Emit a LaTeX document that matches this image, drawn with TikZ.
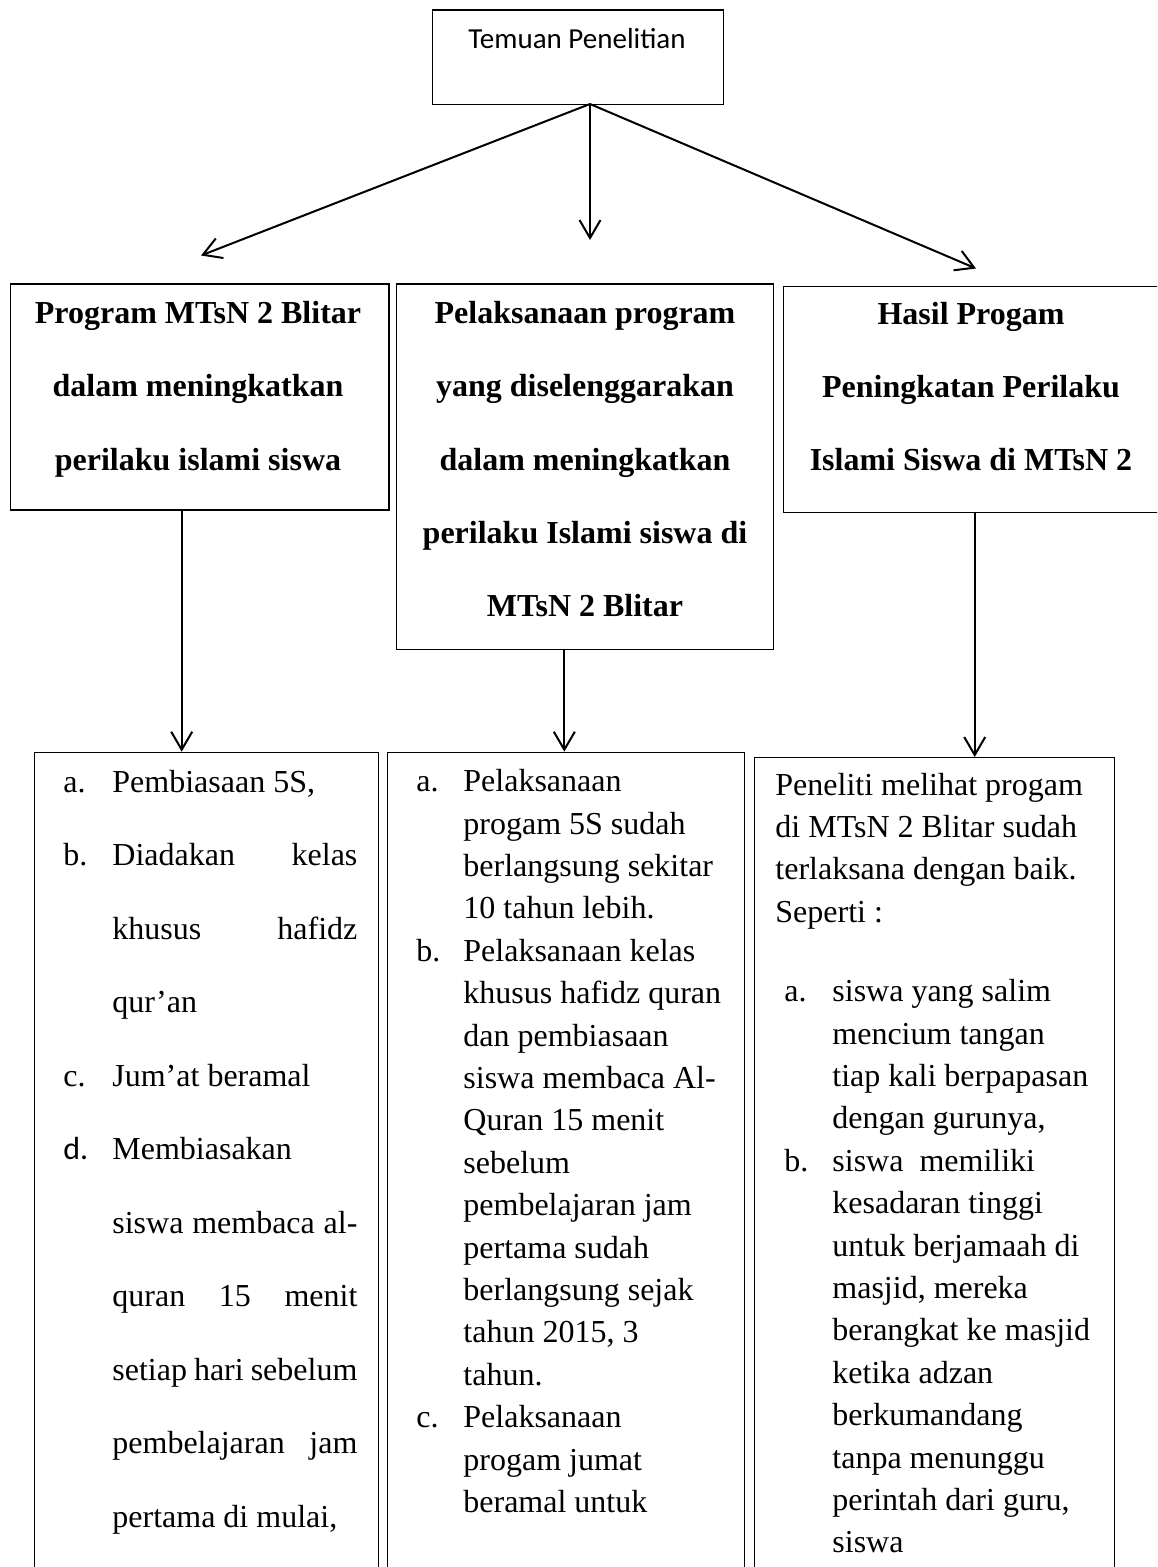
\documentclass[tikz,border=0pt]{standalone}
\usepackage{fontspec}
\setmainfont{Liberation Serif}
\newfontfamily\califont{Carlito}
\usetikzlibrary{arrows.meta}
\newcommand\jusline[1]{\hbox to 122.5pt{#1}}
\begin{document}
\begin{tikzpicture}[x=0.5pt,y=-0.5pt,
  boxst/.style={draw,line width=0.7pt,inner sep=0,anchor=north west},
  arr/.style={line width=1pt,-{Straight Barb[length=9pt,width=10.5pt,line width=1pt]}},
  txt/.style={anchor=base west,inner sep=0,font=\fontsize{16}{19}\selectfont},
  hd/.style={anchor=base,inner sep=0,font=\bfseries\fontsize{16}{19}\selectfont}]
\useasboundingbox (0,0) rectangle (1157,1567);
\clip (0,0) rectangle (1157,1567);
% top box
\node[boxst,minimum width=145.5pt,minimum height=47.35pt] (top) at (431.7,9.3) {};
\node[anchor=base,inner sep=0,font=\califont\fontsize{14.5}{17}\selectfont] (toptxt) at (577,48.3) {Temuan Penelitian};
% heading boxes
\node[boxst,minimum width=189.15pt,minimum height=113pt] (lh) at (10,283.3) {};
\node[boxst,minimum width=188.5pt,minimum height=182.85pt] (mh) at (396,283.3) {};
\node[boxst,minimum width=188.65pt,minimum height=113pt] (rh) at (782.7,285.7) {};
% bottom boxes (open at the bottom of the page)
\node[boxst,minimum width=172pt,minimum height=430pt] (lb) at (34,751.7) {};
\node[boxst,minimum width=178.65pt,minimum height=430pt] (mb) at (386.7,751.7) {};
\node[boxst,minimum width=180pt,minimum height=430pt] (rb) at (754,757) {};
% arrow ends
\coordinate (apex) at (590,104);
\coordinate (tipL) at (201,255.5);
\coordinate (tipM) at (590,240);
\coordinate (tipR) at (976,268.5);
\draw[arr] (apex) -- (tipL);
\draw[arr] (apex) -- (tipM);
\draw[arr] (apex) -- (tipR);
\draw[arr] (lh.south -| 181.7,0) -- (lb.north -| 181.7,0);
\draw[arr] (mh.south -| 564.3,0) -- (mb.north -| 564.3,0);
\draw[arr] (rh.south -| 974.7,0) -- (rb.north -| 974.7,0);
% heading texts
\node[hd] (lh1) at (198,323.3) {Program MTsN 2 Blitar};
\node[hd] (lh2) at (198,396.7) {dalam meningkatkan};
\node[hd] (lh3) at (198,470) {perilaku islami siswa};
\node[hd] (mh1) at (585,323.3) {Pelaksanaan program};
\node[hd] (mh2) at (585,396.7) {yang diselenggarakan};
\node[hd] (mh3) at (585,470) {dalam meningkatkan};
\node[hd] (mh4) at (585,543.3) {perilaku Islami siswa di};
\node[hd] (mh5) at (585,616.7) {MTsN 2 Blitar};
\node[hd] (rh1) at (971,325) {Hasil Progam};
\node[hd] (rh2) at (971,397.5) {Peningkatan Perilaku};
\node[hd] (rh3) at (971,470.5) {Islami Siswa di MTsN 2};
% left bottom box text
\node[txt] (la) at (63,792) {a.};
\node[txt] (l0) at (112,792) {Pembiasaan 5S,};
\node[txt] (lbl) at (63,865.5) {b.};
\node[txt] (l1) at (112,865.5) {\jusline{Diadakan\hfill kelas}};
\node[txt] (l2) at (112,939) {\jusline{khusus\hfill hafidz}};
\node[txt] (l3) at (112,1012.5) {qur’an};
\node[txt] (lc) at (63,1086) {c.};
\node[txt] (l4) at (112,1086) {Jum’at beramal};
\node[txt] (ld) at (63,1159.5) {\califont d.};
\node[txt] (l5) at (112,1159.5) {Membiasakan};
\node[txt] (l6) at (112,1233) {\jusline{siswa membaca al-}};
\node[txt] (l7) at (112,1306.5) {\jusline{quran\hfill 15\hfill menit}};
\node[txt] (l8) at (112,1380) {\jusline{setiap hari sebelum}};
\node[txt] (l9) at (112,1453.5) {\jusline{pembelajaran\hfill jam}};
\node[txt] (l10) at (112,1527) {pertama di mulai,};
% middle bottom box text
\node[txt] (ma) at (416,791.7) {a.};
\node[txt] (m0) at (463,791.7) {Pelaksanaan};
\node[txt] (m1) at (463,834.1) {progam 5S sudah};
\node[txt] (m2) at (463,876.5) {berlangsung sekitar};
\node[txt] (m3) at (463,918.9) {10 tahun lebih.};
\node[txt] (mbl) at (416,961.3) {b.};
\node[txt] (m4) at (463,961.3) {Pelaksanaan kelas};
\node[txt] (m5) at (463,1003.7) {khusus hafidz quran};
\node[txt] (m6) at (463,1046.1) {dan pembiasaan};
\node[txt] (m7) at (463,1088.5) {siswa membaca Al-};
\node[txt] (m8) at (463,1130.9) {Quran 15 menit};
\node[txt] (m9) at (463,1173.3) {sebelum};
\node[txt] (m10) at (463,1215.7) {pembelajaran jam};
\node[txt] (m11) at (463,1258.1) {pertama sudah};
\node[txt] (m12) at (463,1300.5) {berlangsung sejak};
\node[txt] (m13) at (463,1342.9) {tahun 2015, 3};
\node[txt] (m14) at (463,1385.3) {tahun.};
\node[txt] (mc) at (416,1427.7) {c.};
\node[txt] (m15) at (463,1427.7) {Pelaksanaan};
\node[txt] (m16) at (463,1470.1) {progam jumat};
\node[txt] (m17) at (463,1512.5) {beramal untuk};
% right bottom box text
\node[txt] (r0) at (775,795) {Peneliti melihat progam};
\node[txt] (r1) at (775,837.4) {di MTsN 2 Blitar sudah};
\node[txt] (r2) at (775,879.8) {terlaksana dengan baik.};
\node[txt] (r3) at (775,922.2) {Seperti :};
\node[txt] (ra) at (784,1001.7) {a.};
\node[txt] (s0) at (832,1001.7) {siswa yang salim};
\node[txt] (s1) at (832,1044.1) {mencium tangan};
\node[txt] (s2) at (832,1086.5) {tiap kali berpapasan};
\node[txt] (s3) at (832,1128.9) {dengan gurunya,};
\node[txt] (rbl) at (784,1171.3) {b.};
\node[txt] (s4) at (832,1171.3) {siswa\ \ memiliki};
\node[txt] (s5) at (832,1213.7) {kesadaran tinggi};
\node[txt] (s6) at (832,1256.1) {untuk berjamaah di};
\node[txt] (s7) at (832,1298.5) {masjid, mereka};
\node[txt] (s8) at (832,1340.9) {berangkat ke masjid};
\node[txt] (s9) at (832,1383.3) {ketika adzan};
\node[txt] (s10) at (832,1425.7) {berkumandang};
\node[txt] (s11) at (832,1468.1) {tanpa menunggu};
\node[txt] (s12) at (832,1510.5) {perintah dari guru,};
\node[txt] (s13) at (832,1552.9) {siswa};
\end{tikzpicture}
\end{document}
